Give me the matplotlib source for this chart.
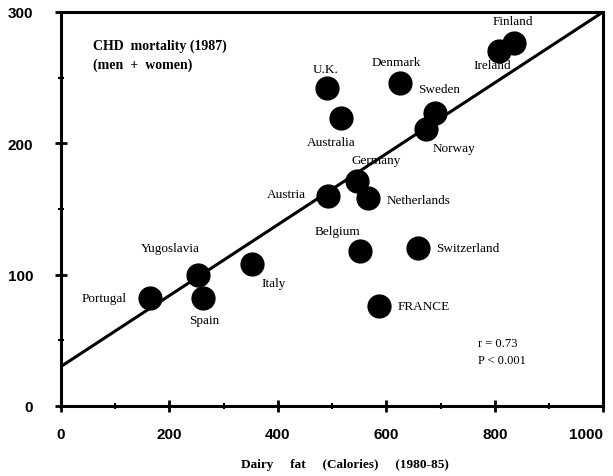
import matplotlib.pyplot as plt
from matplotlib.ticker import MultipleLocator

# countries and values
countries = ['Portugal', 'Yugoslavia', 'Spain', 'Italy', 'Austria', 'Germany',
             'Netherlands', 'Belgium', 'Switzerland', 'FRANCE', 'U.K.',
             'Australia', 'Denmark', 'Sweden', 'Norway', 'Ireland', 'Finland']
dairy_fat = [164, 253, 262, 353, 492, 546, 567, 551, 658, 587, 490,
             516, 626, 689, 673, 808, 836]
chd_mortality = [82, 100, 82, 108, 160, 171, 158, 118, 120, 76, 242,
                 219, 246, 223, 211, 270, 276]

# regression line
fit_intercept = 30
fit_slope = 0.27

x_ticks = [0, 200, 400, 600, 800, 1000]
y_ticks = [0, 100, 200, 300]

# label offsets in points (dx, dy) from each marker
label_offsets = {
    'Portugal': (-33, 0), 'Yugoslavia': (-20, 19), 'Spain': (1, -16),
    'Italy': (15, -14), 'Austria': (-30, 1), 'Germany': (14, 15),
    'Netherlands': (36, -1), 'Belgium': (-16, 14), 'Switzerland': (36, 0),
    'FRANCE': (32, 0), 'U.K.': (-1, 14), 'Australia': (-7, -17),
    'Denmark': (-3, 15), 'Sweden': (3, 17), 'Norway': (20, -14),
    'Ireland': (-5, -10), 'Finland': (-1, 16),
}

serif = 'Liberation Serif'

fig = plt.figure(figsize=(6.13, 4.77), dpi=100)
ax = fig.add_axes([0.0995, 0.147, 0.8845, 0.826])

ax.scatter(dairy_fat, chd_mortality, s=270, c='black', zorder=3)
ax.plot([0, 1000], [fit_intercept, fit_intercept + fit_slope * 1000],
        color='black', lw=2.2, zorder=2)

for name, x, y in zip(countries, dairy_fat, chd_mortality):
    dx, dy = label_offsets[name]
    ax.annotate(name, (x, y), xytext=(dx, dy), textcoords='offset points',
                ha='center', va='center', fontsize=9.5, family=serif, zorder=4)

ax.text(0.059, 0.915, 'CHD  mortality (1987)', transform=ax.transAxes,
        fontsize=10, family=serif, fontweight='bold', va='center')
ax.text(0.059, 0.868, '(men  +  women)', transform=ax.transAxes,
        fontsize=10, family=serif, fontweight='bold', va='center')
ax.text(770, 48, 'r = 0.73', fontsize=9, family=serif, va='center')
ax.text(770, 35, 'P < 0.001', fontsize=9, family=serif, va='center')

ax.set_xlim(0, 1000)
ax.set_ylim(0, 300)
ax.set_xticks(x_ticks)
xl = ax.set_xticklabels([str(v) for v in x_ticks],
                        fontweight='bold', family='Liberation Sans')
ax.set_yticks(y_ticks)
ax.set_yticklabels([str(v) for v in y_ticks],
                   fontweight='bold', family='Liberation Sans')
xl[-1].set_horizontalalignment('right')
ax.xaxis.set_minor_locator(MultipleLocator(100))
ax.yaxis.set_minor_locator(MultipleLocator(50))

for s in ax.spines.values():
    s.set_linewidth(2.2)
ax.tick_params(which='major', direction='inout', length=8, width=2,
               labelsize=11, pad=11)
ax.tick_params(which='minor', direction='inout', length=4, width=1.5)
ax.tick_params(axis='y', pad=16)

fig.text(0.562, 0.025, 'Dairy     fat     (Calories)     (1980-85)',
         ha='center', va='center', fontsize=9.5, family=serif, fontweight='bold')

fig.savefig('out.png', dpi=100)
